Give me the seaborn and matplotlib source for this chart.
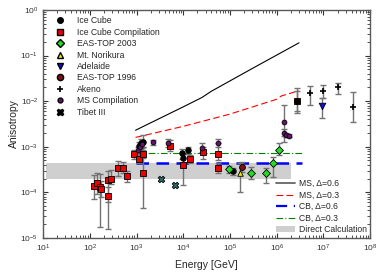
import numpy as np
import pandas as pd
import matplotlib
matplotlib.use('Agg')
import matplotlib.pyplot as plt
import seaborn as sns
from matplotlib.lines import Line2D
from matplotlib.patches import Patch

# ---- data ----
# Ice Cube Compilation (red squares): energy, anisotropy, lower, upper
icc_E  = [120, 141, 166, 174, 240, 282, 240, 407, 513, 617, 890, 1150, 1380, 1380, 5100, 9800, 14000, 27000, 56000, 56000, 2.7e6]
icc_A  = [1.4e-4, 1.6e-4, 1.33e-4, 1.17e-4, 1.85e-4, 1.95e-4, 8.3e-5, 3.5e-4, 3.5e-4, 2.3e-4, 6.9e-4, 5.4e-4, 7.0e-4, 2.6e-4, 1.05e-3, 4.0e-4, 5.4e-4, 7.8e-4, 6.9e-4, 3.4e-4, 1.0e-2]
icc_lo = [0.7e-4, 0.9e-4, 1.7e-5, 0.8e-4, 1.6e-5, 1.5e-4, 6.0e-5, 2.3e-4, 2.6e-4, 1.7e-4, 5.5e-4, 4.5e-4, 5.8e-4, 4.5e-5, 8.0e-4, 1.45e-4, 4.5e-4, 5.5e-4, 5.0e-4, 2.7e-4, 5.5e-3]
icc_hi = [2.4e-4, 2.6e-4, 2.5e-4, 1.8e-4, 3.0e-4, 3.1e-4, 1.3e-4, 4.8e-4, 4.6e-4, 3.0e-4, 8.5e-4, 6.5e-4, 8.5e-4, 1.0e-3, 1.4e-3, 7.0e-4, 6.5e-4, 1.0e-3, 1.2e-3, 4.5e-4, 1.9e-2]

# Ice Cube (black circles)
ic_E  = [1120, 1260, 1380, 9300, 10000, 12900, 1.17e5, 2.7e6]
ic_A  = [1.05e-3, 1.2e-3, 1.3e-3, 7.2e-4, 5.6e-4, 8.5e-4, 2.9e-4, 1.0e-2]
ic_lo = [8.5e-4, 9.5e-4, 1.0e-3, 5.5e-4, 4.2e-4, 7.0e-4, 2.4e-4, 6.0e-3]
ic_hi = [1.3e-3, 1.5e-3, 1.8e-3, 9.0e-4, 7.0e-4, 1.0e-3, 3.5e-4, 1.7e-2]

# MS Compilation (purple)
ms_E  = [1070, 1170, 1320, 2290, 4680, 25000, 56000, 1.4e6, 1.4e6, 1.6e6, 1.8e6]
ms_A  = [8.5e-4, 1.0e-3, 1.15e-3, 1.25e-3, 1.2e-3, 9.5e-4, 1.2e-3, 3.4e-3, 2.0e-3, 1.8e-3, 1.75e-3]
ms_lo = [7.0e-4, 8.5e-4, 9.5e-4, 1.1e-3, 1.0e-3, 7.5e-4, 1.0e-3, 1.3e-3, 1.7e-3, 1.6e-3, 1.6e-3]
ms_hi = [1.0e-3, 1.2e-3, 1.4e-3, 1.4e-3, 1.5e-3, 1.2e-3, 1.5e-3, 8.3e-3, 2.4e-3, 2.0e-3, 1.9e-3]

# EAS-TOP 2003 (green diamonds)
eas03_E  = [9.3e4, 2.8e5, 5.9e5, 8.5e5, 1.12e6]
eas03_A  = [3.2e-4, 2.7e-4, 2.7e-4, 4.5e-4, 8.5e-4]
eas03_lo = [2.7e-4, 2.0e-4, 1.6e-4, 2.2e-4, 6.5e-4]
eas03_hi = [3.7e-4, 3.6e-4, 3.5e-4, 6.0e-4, 1.2e-3]

# Mt. Norikura (yellow triangle)
nor_E, nor_A, nor_lo, nor_hi = [1.6e5], [2.6e-4], [1.0e-4], [4.4e-4]

# Adelaide (blue triangle down)
ade_E, ade_A, ade_lo, ade_hi = [9.3e6], [7.8e-3], [4.3e-3], [1.2e-2]

# EAS-TOP 1996 (dark red circle)
eas96_E, eas96_A, eas96_lo, eas96_hi = [1.8e5], [3.6e-4], [2.8e-4], [4.6e-4]

# Akeno (plus)
ak_E  = [5.2e6, 1.0e7, 2.1e7, 4.2e7]
ak_A  = [1.5e-2, 1.7e-2, 2.0e-2, 7.5e-3]
ak_lo = [8.3e-3, 1.2e-2, 1.4e-2, 3.5e-3]
ak_hi = [2.1e-2, 2.3e-2, 2.5e-2, 1.55e-2]

# Tibet III (x)
tib_E = [3400, 6600]
tib_A = [2.0e-4, 1.45e-4]

# model curves
ms06_E = [950, 1e4, 2.5e4, 4e4, 3e5, 3e6]
ms06_A = [2.3e-3, 7.5e-3, 1.2e-2, 1.65e-2, 5.2e-2, 1.9e-1]
ms03_E = [950, 1e4, 1e5, 1e6, 1.26e6, 3e6]
ms03_A = [1.6e-3, 2.8e-3, 5.2e-3, 1.1e-2, 1.3e-2, 1.7e-2]
cb_E = [950, 3.5e6]
cb06_A = [4.5e-4, 4.5e-4]
cb03_A = [7.2e-4, 7.2e-4]
band_E = [11.5, 2e6]
band_lo = 2.0e-4
band_hi = 4.5e-4

sns.set_style('ticks')
plt.rcParams['font.family'] = ['Liberation Sans', 'DejaVu Sans']

fig, ax = plt.subplots(figsize=(3.82, 2.76), dpi=100)
fig.subplots_adjust(left=0.113, right=0.969, bottom=0.138, top=0.964)

ax.fill_between(band_E, band_lo, band_hi, color='#cfcfcf', lw=0, zorder=0)

sns.lineplot(x=ms06_E, y=ms06_A, ax=ax, color='black', lw=0.8, legend=False)
sns.lineplot(x=ms03_E, y=ms03_A, ax=ax, color='red', lw=0.8, dashes=(6, 3), legend=False)
sns.lineplot(x=cb_E, y=cb06_A, ax=ax, color='blue', lw=1.8, dashes=(5, 3), legend=False)
sns.lineplot(x=cb_E, y=cb03_A, ax=ax, color='green', lw=0.8, dashes=(6, 2, 1, 2), legend=False)


def points(E, A, lo, hi, marker, color, s=20, edge='black', lw=0.6):
    E = np.array(E); A = np.array(A)
    if lo is not None:
        yerr = [A - np.array(lo), np.array(hi) - A]
        _, caps, _ = ax.errorbar(E, A, yerr=yerr, fmt='none', ecolor='0.45',
                                 elinewidth=1.0, capsize=2.5, capthick=1.0, zorder=2)
        for c in caps:
            c.set_color('black')
    df = pd.DataFrame({'E': E, 'A': A})
    sns.scatterplot(data=df, x='E', y='A', ax=ax, marker=marker, color=color,
                    s=s, edgecolor=edge, linewidth=lw, zorder=3, legend=False)


points(icc_E, icc_A, icc_lo, icc_hi, 's', '#ee0000', s=22)
points(ic_E, ic_A, ic_lo, ic_hi, 'o', 'black', s=16)
points(ms_E, ms_A, ms_lo, ms_hi, 'o', '#6a1070', s=12)
points(eas03_E, eas03_A, eas03_lo, eas03_hi, 'D', '#22dd22', s=16)
points(nor_E, nor_A, nor_lo, nor_hi, '^', '#eeee00', s=16)
points(ade_E, ade_A, ade_lo, ade_hi, 'v', '#1010dd', s=22)
points(eas96_E, eas96_A, eas96_lo, eas96_hi, 'o', '#7a1010', s=18)
points(ak_E, ak_A, ak_lo, ak_hi, '+', 'black', s=22, edge=None, lw=1.2)
points(tib_E, tib_A, None, None, 'X', '#2f6f6f', s=22)

ax.set_xscale('log')
ax.set_yscale('log')
ax.set_xlim(10, 1e8)
ax.set_ylim(1e-5, 1)
ax.set_xticks([10**k for k in range(1, 9)])
ax.set_yticks([10.0**k for k in range(-5, 1)])
ax.tick_params(which='both', direction='in', top=True, right=True, labelsize=6, colors='0.2')
ax.tick_params(which='major', length=3.5)
ax.tick_params(which='minor', length=2)
for sp in ax.spines.values():
    sp.set_color('0.35')
    sp.set_linewidth(1.0)
ax.set_xlabel('Energy [GeV]', fontsize=7.5)
ax.set_ylabel('Anisotropy', fontsize=7.5, labelpad=1)

h1 = [
    Line2D([], [], ls='none', marker='o', color='black', ms=4),
    Line2D([], [], ls='none', marker='s', color='#ee0000', mec='black', ms=4.5),
    Line2D([], [], ls='none', marker='D', color='#22dd22', mec='black', ms=4),
    Line2D([], [], ls='none', marker='^', color='#eeee00', mec='black', ms=4.5),
    Line2D([], [], ls='none', marker='v', color='#1010dd', mec='black', ms=4.5),
    Line2D([], [], ls='none', marker='o', color='#7a1010', mec='black', ms=4.5),
    Line2D([], [], ls='none', marker='+', color='black', ms=4.5, mew=1.2),
    Line2D([], [], ls='none', marker='o', color='#6a1070', mec='black', ms=3.5),
    Line2D([], [], ls='none', marker='X', color='black', ms=4.5),
]
l1 = ['Ice Cube', 'Ice Cube Compilation', 'EAS-TOP 2003', 'Mt. Norikura', 'Adelaide',
      'EAS-TOP 1996', 'Akeno', 'MS Compilation', 'Tibet III']
leg1 = ax.legend(h1, l1, loc='upper left', bbox_to_anchor=(0.02, 1.0), frameon=False,
                 fontsize=6.2, handlelength=1.0, handletextpad=1.4, labelspacing=0.28,
                 borderpad=0.45, borderaxespad=0.3)
ax.add_artist(leg1)

h2 = [
    Line2D([], [], color='0.4', lw=1.3),
    Line2D([], [], color='red', lw=0.8, dashes=(6, 3)),
    Line2D([], [], color='blue', lw=1.6, dashes=(5, 3)),
    Line2D([], [], color='green', lw=0.8, dashes=(6, 2, 1, 2)),
    Patch(facecolor='#cfcfcf', edgecolor='none'),
]
l2 = ['MS, Δ=0.6', 'MS, Δ=0.3', 'CB, Δ=0.6', 'CB, Δ=0.3', 'Direct Calculation']
ax.legend(h2, l2, loc='lower right', frameon=False, fontsize=6.2, handlelength=2.2,
          handletextpad=0.4, labelspacing=0.3, borderpad=0.2, borderaxespad=0.2)

fig.savefig('out.png', dpi=100)
